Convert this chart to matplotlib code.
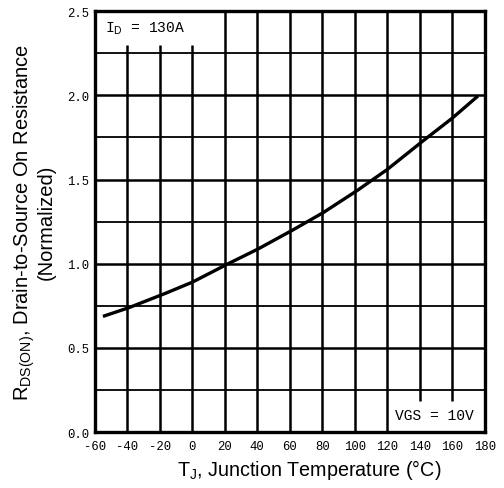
import numpy as np
import matplotlib
matplotlib.use("Agg")
from matplotlib import pyplot as plt

# Curve
temp = [-54, -40, -20, 0, 20, 40, 60, 80, 100, 120, 140, 160, 175]
rds = [0.69, 0.735, 0.81, 0.89, 0.99, 1.085, 1.19, 1.30, 1.425, 1.56, 1.715, 1.865, 1.99]

x_ticks = list(range(-60, 181, 20))
y_ticks = [0.0, 0.5, 1.0, 1.5, 2.0, 2.5]

plt.rcParams['mathtext.fontset'] = 'custom'
plt.rcParams['mathtext.rm'] = 'Liberation Sans'
plt.rcParams['mathtext.it'] = 'Liberation Sans'

fig = plt.figure(figsize=(5.04, 4.89), dpi=100)
ax = fig.add_axes([0.188, 0.1145, 0.774, 0.8605])
ax.set_xlim(-60, 180)
ax.set_ylim(0, 2.5)

# grid - some lines are cut short by the labels
for x in range(-40, 161, 20):
    lo, hi = 0, 2.5
    if x <= 0:
        hi = 2.30
    if x >= 140:
        lo = 0.185
    ax.vlines(x, lo, hi, color='black', lw=1.8)
for y in np.arange(0.25, 2.5, 0.25):
    lw = 1.8 if abs(y * 2 - round(y * 2)) < 1e-6 else 1.3
    ax.hlines(y, -60, 180, color='black', lw=lw)

tt = np.linspace(temp[0], temp[-1], 200)
ax.plot(tt, np.interp(tt, temp, rds), color='black', lw=2.4)

for s in ax.spines.values():
    s.set_linewidth(2.4)

ax.set_xticks(x_ticks)
ax.set_yticks(y_ticks)
ax.set_xticklabels([str(t) for t in x_ticks], family='Liberation Mono', fontsize=8.8)
ax.set_yticklabels(['%.1f' % t for t in y_ticks], family='Liberation Mono', fontsize=8.8)
ax.tick_params(axis='x', length=0, pad=6)
ax.tick_params(axis='y', length=0, pad=4)

ax.text(-54, 2.45, r'I$_\mathrm{D}$ = 130A', family='Liberation Mono', fontsize=10.5,
        va='top', ha='left')
ax.text(125, 0.1, 'VGS = 10V', family='Liberation Mono', fontsize=10.5,
        va='center', ha='left')

ax.set_xlabel(r'T$_\mathrm{J}$, Junction Temperature (°C)', family='Liberation Sans',
              fontsize=14.2, labelpad=3)
ax.xaxis.label.set_x(0.55)
ax.set_ylabel('R$_\\mathrm{DS(ON)}$, Drain-to-Source On Resistance\n(Normalized)',
              family='Liberation Sans', fontsize=14.5, labelpad=8, linespacing=1.0)

fig.savefig('out.png', dpi=100)
